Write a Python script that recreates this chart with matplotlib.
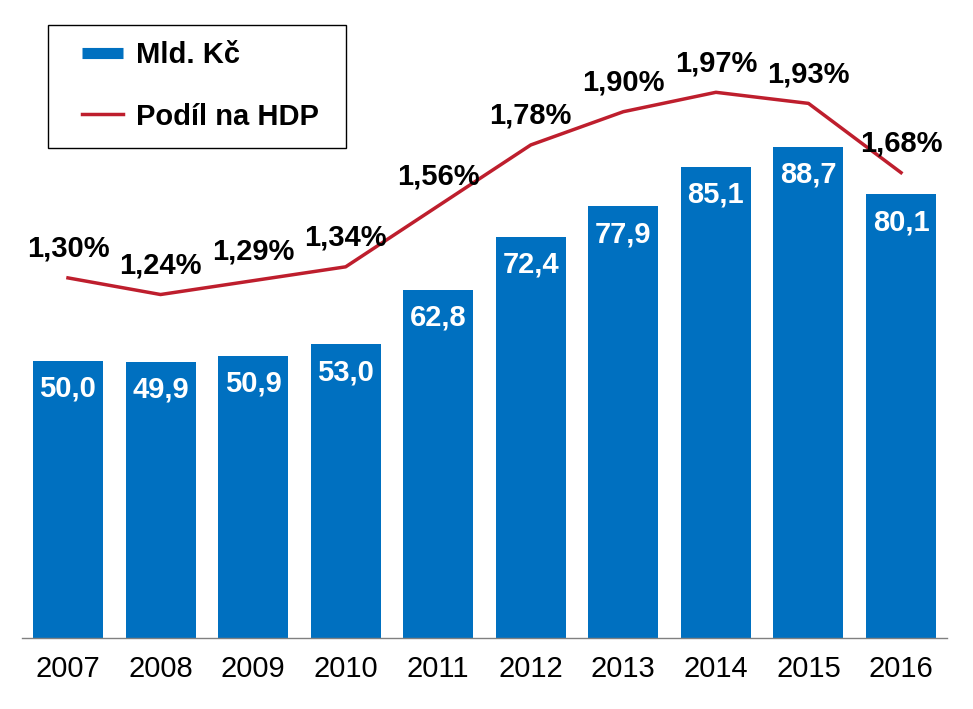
import matplotlib.pyplot as plt
from matplotlib.lines import Line2D
from matplotlib.patches import Rectangle

plt.rcParams['font.family'] = ['Liberation Sans', 'DejaVu Sans']

# Data
roky = ['2007', '2008', '2009', '2010', '2011', '2012', '2013', '2014', '2015', '2016']
mld_kc = [50.0, 49.9, 50.9, 53.0, 62.8, 72.4, 77.9, 85.1, 88.7, 80.1]
podil_hdp = [1.30, 1.24, 1.29, 1.34, 1.56, 1.78, 1.90, 1.97, 1.93, 1.68]

modra = '#0070C0'
cervena = '#BE1E2D'
W, H = 973, 709

fig = plt.figure(figsize=(W / 100, H / 100), dpi=100)
ax = fig.add_axes([0.0223, 1 - 638 / H, 0.9513, 554 / H])
x = list(range(len(roky)))

# Sloupce
ax.bar(x, mld_kc, width=0.756, color=modra, zorder=2)
ax.set_xlim(-0.5, len(roky) - 0.5)
ax.set_ylim(0, 100)
for xi, v in zip(x, mld_kc):
    ax.annotate(f'{v:.1f}'.replace('.', ','), (xi, v), xytext=(0, -20),
                textcoords='offset points', ha='center', va='center',
                color='white', fontsize=21, fontweight='bold', zorder=3)

# Čára - podíl na HDP
ax2 = ax.twinx()
ax2.set_ylim(0, 2.0)
ax2.plot(x, podil_hdp, color=cervena, linewidth=2.5, clip_on=False)
for xi, v in zip(x, podil_hdp):
    ax2.annotate(f'{v:.2f}'.replace('.', ',') + '%', (xi, v), xytext=(0, 21),
                 textcoords='offset points', ha='center', va='center',
                 color='black', fontsize=21, fontweight='bold',
                 annotation_clip=False)

# Osy
for a in (ax, ax2):
    for s in ['top', 'left', 'right']:
        a.spines[s].set_visible(False)
    a.set_yticks([])
ax2.spines['bottom'].set_visible(False)
ax.spines['bottom'].set_color('#808080')
ax.spines['bottom'].set_linewidth(1)
ax.set_xticks(x)
ax.set_xticklabels(roky, fontsize=21)
ax.tick_params(axis='x', length=0, pad=12)

# Legenda - rámeček zvlášť
fig.patches.append(Rectangle((48 / W, 1 - 148 / H), 298 / W, 123 / H,
                             transform=fig.transFigure, facecolor='white',
                             edgecolor='black', linewidth=1, zorder=5))
handles = [Line2D([0], [0], color=modra, linewidth=8, solid_capstyle='butt'),
           Line2D([0], [0], color=cervena, linewidth=2.5)]
leg = fig.legend(handles, ['Mld. Kč', 'Podíl na HDP'], loc='upper left',
                 bbox_to_anchor=(82 / W, 1 - 41 / H),
                 prop={'size': 21, 'weight': 'bold'}, frameon=False,
                 handlelength=1.4, handletextpad=0.45, labelspacing=1.15,
                 borderpad=0, borderaxespad=0)
leg.set_zorder(6)

fig.savefig('out.png', dpi=100)
